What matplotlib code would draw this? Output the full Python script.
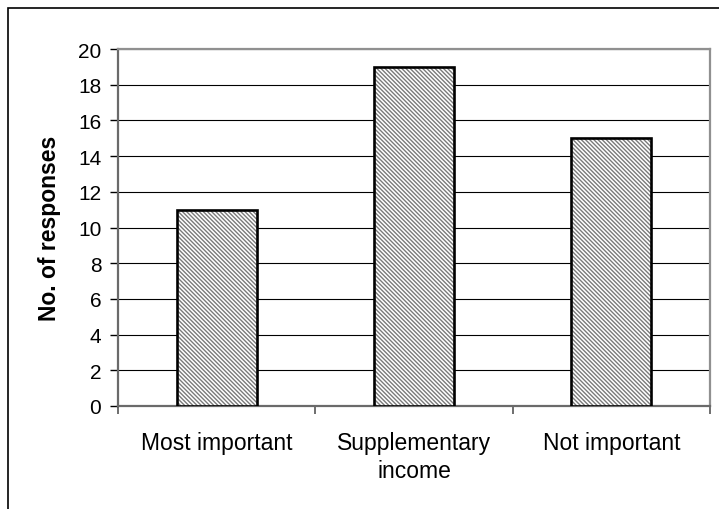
import matplotlib
matplotlib.use("Agg")
import matplotlib.pyplot as plt
from matplotlib.patches import Rectangle

categories = ["Most important", "Supplementary\nincome", "Not important"]
responses = [11, 19, 15]
y_ticks = [0, 2, 4, 6, 8, 10, 12, 14, 16, 18, 20]

plt.rcParams["font.family"] = ["Liberation Sans", "DejaVu Sans"]
plt.rcParams["hatch.linewidth"] = 1.0

W, H = 719, 510
fig = plt.figure(figsize=(W / 100, H / 100), dpi=100)

# outer chart-area frame (runs off the right and bottom edges)
fig.patches.append(Rectangle((8 / W, -0.05), 1.1, 1 - 9 / H + 0.05,
                             transform=fig.transFigure, fill=False,
                             edgecolor="black", linewidth=1.2))

left, right, top, bottom = 118, 710, 50, 407
ax = fig.add_axes([left / W, 1 - bottom / H, (right - left) / W, (bottom - top) / H])

x = list(range(len(categories)))
# hatched fill, then a heavy black outline on top
ax.bar(x, responses, width=0.405, color="white", edgecolor="#7a7a7a",
       hatch="\\" * 8, linewidth=0, zorder=3)
ax.bar(x, responses, width=0.405, color="none", edgecolor="black",
       linewidth=1.9, zorder=4)

ax.set_xlim(-0.5, len(categories) - 0.5)
ax.set_ylim(0, 20)
ax.set_yticks(y_ticks)
ax.set_yticklabels([str(v) for v in y_ticks], fontsize=15)
ax.yaxis.grid(True, color="black", linewidth=0.8)
ax.set_axisbelow(True)

ax.set_xticks([i + 0.5 for i in range(-1, len(categories))])
ax.set_xticklabels([])
ax.set_xticks(x, minor=True)
ax.set_xticklabels(categories, minor=True, fontsize=16.5, linespacing=1.25)
ax.tick_params(axis="x", which="minor", length=0, pad=18)
ax.tick_params(axis="x", which="major", direction="out", length=6,
               width=1.2, color="#555555")
ax.tick_params(axis="y", direction="out", length=6, width=1.0,
               color="black", pad=6)

for side in ["top", "right"]:
    ax.spines[side].set_color("#909090")
    ax.spines[side].set_linewidth(1.6)
for side in ["left", "bottom"]:
    ax.spines[side].set_color("#6a6a6a")
    ax.spines[side].set_linewidth(1.6)

ax.set_ylabel("No. of responses", fontsize=16.5, fontweight="bold", labelpad=12)

fig.savefig("out.png", dpi=100)
